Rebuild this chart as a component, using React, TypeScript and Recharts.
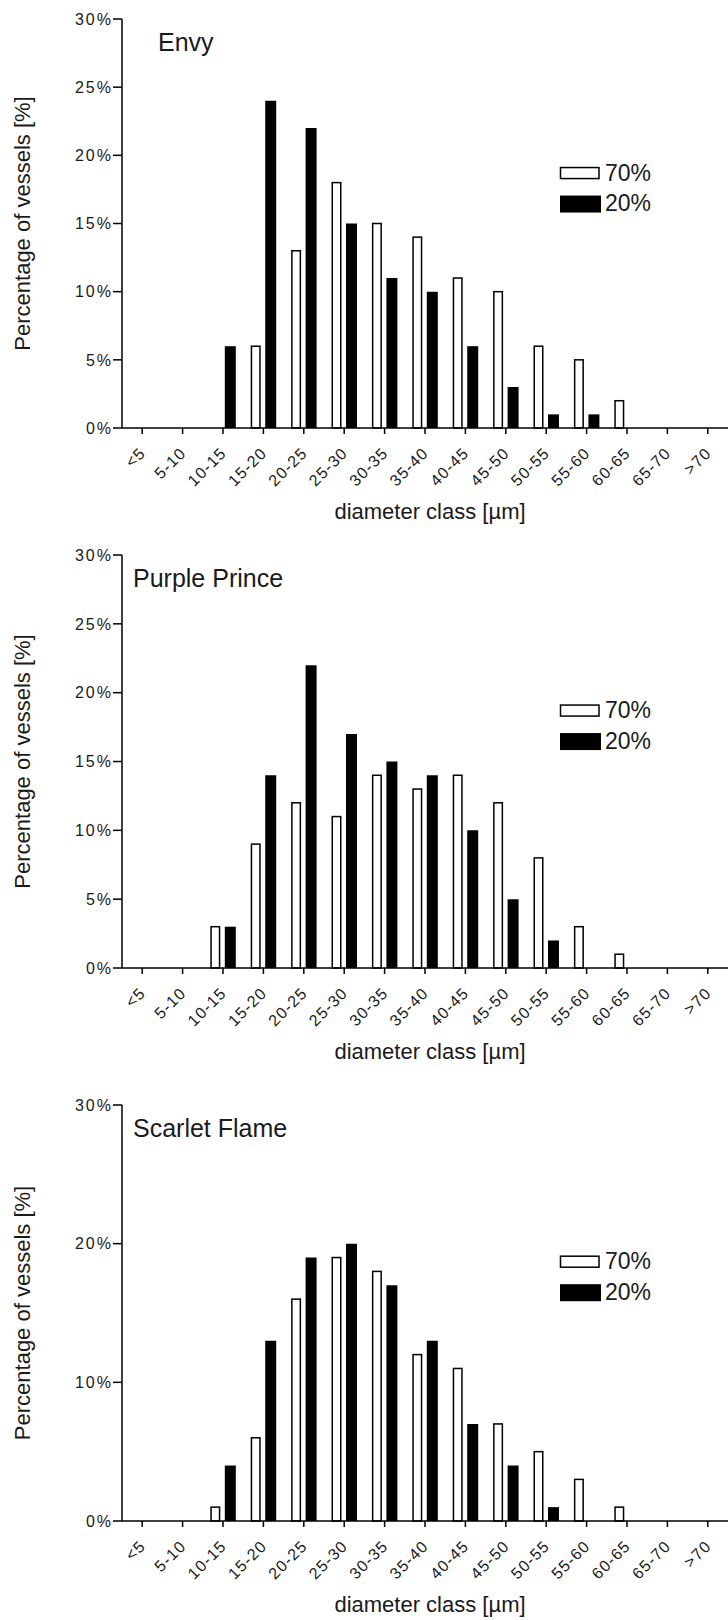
import React from "react";
import { Bar, BarChart, XAxis, YAxis } from "recharts";

const classes = ["<5", "5-10", "10-15", "15-20", "20-25", "25-30", "30-35", "35-40", "40-45", "45-50", "50-55", "55-60", "60-65", "65-70", ">70"];

// percentage of vessels per diameter class, 70% vs 20% treatment
const envy70 = [0, 0, 0, 6, 13, 18, 15, 14, 11, 10, 6, 5, 2, 0, 0];
const envy20 = [0, 0, 6, 24, 22, 15, 11, 10, 6, 3, 1, 1, 0, 0, 0];
const purple70 = [0, 0, 3, 9, 12, 11, 14, 13, 14, 12, 8, 3, 1, 0, 0];
const purple20 = [0, 0, 3, 14, 22, 17, 15, 14, 10, 5, 2, 0, 0, 0, 0];
const scarlet70 = [0, 0, 1, 6, 16, 19, 18, 12, 11, 7, 5, 3, 1, 0, 0];
const scarlet20 = [0, 0, 4, 13, 19, 20, 17, 13, 7, 4, 1, 0, 0, 0, 0];

const ticksBy5 = [0, 5, 10, 15, 20, 25, 30];
const ticksBy10 = [0, 10, 20, 30];
const seriesNames = ["70%", "20%"];

const FONT = "'Liberation Sans', Arial, sans-serif";
const INK = "#1a1a1a";
const W = 728;
const AXIS_W = 122;
const TOP_PAD = 10;
const X_AXIS_H = 100;

const panels = [
  { name: "Envy", titleX: 158, top: 19, plotH: 409, s70: envy70, s20: envy20, ticks: ticksBy5 },
  { name: "Purple Prince", titleX: 133, top: 555, plotH: 413, s70: purple70, s20: purple20, ticks: ticksBy5 },
  { name: "Scarlet Flame", titleX: 133, top: 1105, plotH: 416, s70: scarlet70, s20: scarlet20, ticks: ticksBy10 },
];

const XTick = (props: any) => {
  const { x, y, payload } = props;
  return (
    <g transform={`translate(${x + 4.5},${y + 18})`}>
      <text textAnchor="end" transform="rotate(-45)" fontSize={16} letterSpacing={1.2} fill={INK} fontFamily={FONT}>
        {payload.value}
      </text>
    </g>
  );
};

const YTick = (props: any) => {
  const { x, y, payload } = props;
  return (
    <text x={x} y={y} dy="0.36em" textAnchor="end" fontSize={16} letterSpacing={2} fill={INK} fontFamily={FONT}>
      {`${payload.value}%`}
    </text>
  );
};

const OpenBar = (props: any) => {
  const { x, y, width, height } = props;
  if (!height || height <= 0) return <g />;
  return <rect x={x + 1.25} y={y} width={width - 2.5} height={height} fill="#fff" stroke="#000" strokeWidth={1.5} />;
};

function Panel({ p }: { p: (typeof panels)[number] }) {
  const data = classes.map((c, i) => ({ cls: c, high: p.s70[i], low: p.s20[i] }));
  return (
    <div style={{ position: "absolute", left: 0, top: p.top - TOP_PAD }}>
      <BarChart
        width={W}
        height={TOP_PAD + p.plotH + X_AXIS_H}
        data={data}
        margin={{ top: TOP_PAD, right: 0, bottom: 0, left: 0 }}
        barSize={11}
        barGap={4}
      >
        <XAxis
          dataKey="cls"
          interval={0}
          height={X_AXIS_H}
          tickSize={6}
          tick={<XTick />}
          axisLine={{ stroke: "#000", strokeWidth: 1.5 }}
          tickLine={{ stroke: "#000", strokeWidth: 1.5 }}
        />
        <YAxis
          width={AXIS_W}
          domain={[0, 30]}
          ticks={p.ticks}
          tickSize={9}
          tickMargin={0}
          tick={<YTick />}
          axisLine={{ stroke: "#000", strokeWidth: 1.5 }}
          tickLine={{ stroke: "#000", strokeWidth: 1.5 }}
        />
        <Bar dataKey="high" name={seriesNames[0]} shape={<OpenBar />} isAnimationActive={false} />
        <Bar dataKey="low" name={seriesNames[1]} fill="#000" isAnimationActive={false} />
      </BarChart>
    </div>
  );
}

function Annotations() {
  return (
    <svg width={W} height={1620} style={{ position: "absolute", left: 0, top: 0, pointerEvents: "none" }}>
      {panels.map((p) => {
        const axisY = p.top + p.plotH;
        const midY = p.top + p.plotH / 2;
        const legY = p.top + ((30 - 18.7) / 30) * p.plotH;
        return (
          <g key={p.name} fontFamily={FONT} fill={INK}>
            <text x={p.titleX} y={p.top + 31.5} fontSize={25}>{p.name}</text>
            <text transform={`translate(30,${midY}) rotate(-90)`} textAnchor="middle" fontSize={22}>
              Percentage of vessels [%]
            </text>
            <text x={430} y={axisY + 91} textAnchor="middle" fontSize={22}>diameter class [µm]</text>
            <rect x={560.5} y={legY - 5.5} width={38.5} height={11} fill="#fff" stroke="#000" strokeWidth={1.5} />
            <text x={605} y={legY + 7.5} fontSize={23}>{seriesNames[0]}</text>
            <rect x={560} y={legY + 22.5} width={41} height={17} fill="#000" />
            <text x={605} y={legY + 38} fontSize={23}>{seriesNames[1]}</text>
          </g>
        );
      })}
    </svg>
  );
}

export default function App() {
  return (
    <div style={{ position: "absolute", left: 0, top: 0, width: W, height: 1620, overflow: "hidden", background: "#fff" }}>
      {panels.map((p) => (
        <Panel key={p.name} p={p} />
      ))}
      <Annotations />
    </div>
  );
}
